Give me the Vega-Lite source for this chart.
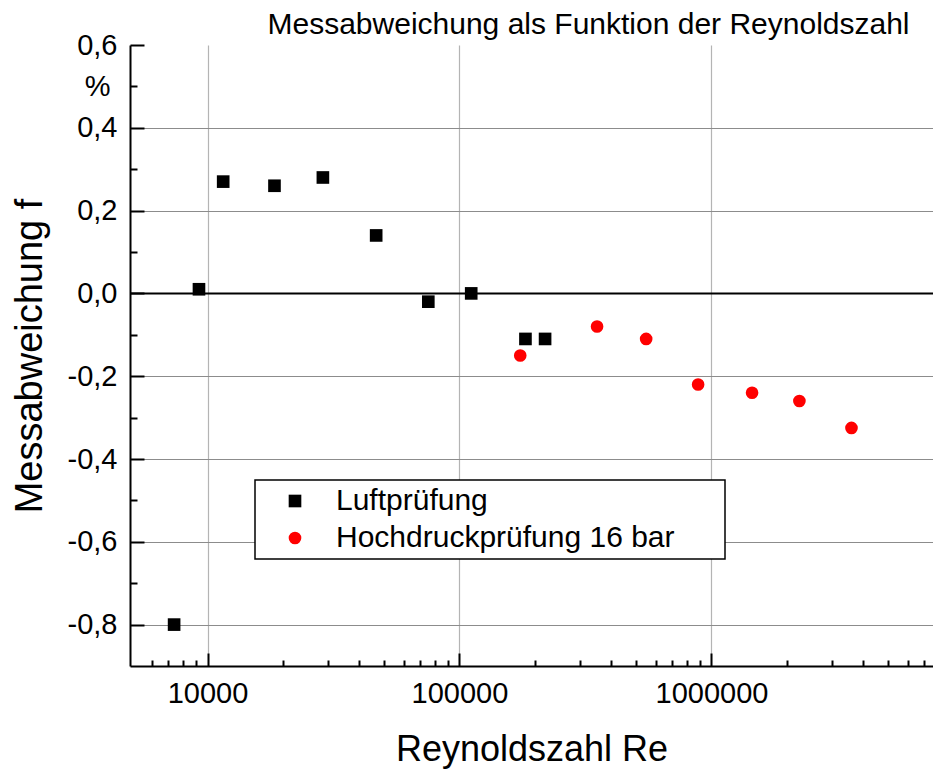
{
  "$schema": "https://vega.github.io/schema/vega-lite/v6.json",
  "width": 803,
  "height": 621,
  "autosize": {"type": "none"},
  "padding": {"left": 130, "top": 45, "right": 0, "bottom": 105},
  "background": "white",
  "config": {
    "view": {"stroke": null},
    "font": "Liberation Sans"
  },
  "title": {
    "text": "Messabweichung als Funktion der Reynoldszahl",
    "fontSize": 30,
    "fontWeight": "normal",
    "font": "Liberation Sans",
    "color": "black",
    "anchor": "middle",
    "frame": "group",
    "dx": 57,
    "baseline": "alphabetic",
    "offset": -33
  },
  "data": {
    "values": [
      {"Re": 7370, "f": -0.80, "series": "Luftprüfung"},
      {"Re": 9250, "f": 0.01, "series": "Luftprüfung"},
      {"Re": 11540, "f": 0.27, "series": "Luftprüfung"},
      {"Re": 18440, "f": 0.26, "series": "Luftprüfung"},
      {"Re": 28700, "f": 0.28, "series": "Luftprüfung"},
      {"Re": 46700, "f": 0.14, "series": "Luftprüfung"},
      {"Re": 75200, "f": -0.02, "series": "Luftprüfung"},
      {"Re": 111300, "f": 0.00, "series": "Luftprüfung"},
      {"Re": 182700, "f": -0.11, "series": "Luftprüfung"},
      {"Re": 218600, "f": -0.11, "series": "Luftprüfung"},
      {"Re": 174200, "f": -0.15, "series": "Hochdruckprüfung 16 bar"},
      {"Re": 351500, "f": -0.08, "series": "Hochdruckprüfung 16 bar"},
      {"Re": 550500, "f": -0.11, "series": "Hochdruckprüfung 16 bar"},
      {"Re": 885000, "f": -0.22, "series": "Hochdruckprüfung 16 bar"},
      {"Re": 1449000, "f": -0.24, "series": "Hochdruckprüfung 16 bar"},
      {"Re": 2233000, "f": -0.26, "series": "Hochdruckprüfung 16 bar"},
      {"Re": 3594000, "f": -0.325, "series": "Hochdruckprüfung 16 bar"}
    ]
  },
  "mark": {"type": "point", "filled": true, "opacity": 1, "size": 160, "strokeWidth": 0},
  "encoding": {
    "x": {
      "field": "Re",
      "type": "quantitative",
      "scale": {"type": "log", "domain": [4925, 7570000], "nice": false},
      "axis": {
        "title": "Reynoldszahl Re",
        "titleFontSize": 36,
        "titleFontWeight": "normal",
        "titleColor": "black",
        "titlePadding": 17,
        "values": [6000, 7000, 8000, 9000, 10000, 20000, 30000, 40000, 50000, 60000, 70000, 80000, 90000, 100000, 200000, 300000, 400000, 500000, 600000, 700000, 800000, 900000, 1000000, 2000000, 3000000, 4000000, 5000000, 6000000, 7000000],
        "labelExpr": "abs(log(datum.value)/LN10 - round(log(datum.value)/LN10)) < 1e-6 ? format(datum.value, 'd') : ''",
        "labelFontSize": 29,
        "labelColor": "black",
        "labelPadding": 26,
        "labelFlush": false,
        "labelOverlap": false,
        "domainColor": "black",
        "domainWidth": 2,
        "tickColor": "black",
        "tickWidth": 2,
        "tickSize": {"condition": {"test": "abs(log(datum.value)/LN10 - round(log(datum.value)/LN10)) < 1e-6", "value": -13}, "value": -6},
        "grid": true,
        "gridColor": "#b4b4b4",
        "gridWidth": 1.2,
        "gridOpacity": {"condition": {"test": "abs(log(datum.value)/LN10 - round(log(datum.value)/LN10)) < 1e-6", "value": 1}, "value": 0}
      }
    },
    "y": {
      "field": "f",
      "type": "quantitative",
      "scale": {"domain": [-0.9, 0.6], "nice": false, "zero": false},
      "axis": {
        "title": "Messabweichung f",
        "titleFontSize": 38,
        "titleFontWeight": "normal",
        "titleColor": "black",
        "titlePadding": 18,
        "values": [-0.8, -0.7, -0.6, -0.5, -0.4, -0.3, -0.2, -0.1, 0, 0.1, 0.2, 0.3, 0.4, 0.5, 0.6],
        "labelExpr": "abs(datum.value - 0.5) < 1e-6 ? '%' : (abs(datum.value*5 - round(datum.value*5)) < 1e-6 ? replace(replace(format(datum.value, '.1f'), '.', ','), '\u2212', '-') : '')",
        "labelFontSize": 29,
        "labelColor": "black",
        "labelPadding": 27,
        "labelFlush": false,
        "labelOverlap": false,
        "domainColor": "black",
        "domainWidth": 2,
        "tickColor": "black",
        "tickWidth": 2,
        "tickSize": {"condition": {"test": "abs(datum.value*5 - round(datum.value*5)) < 1e-6", "value": -14}, "value": -7},
        "grid": true,
        "gridColor": {"condition": {"test": "abs(datum.value) < 1e-6", "value": "black"}, "value": "#8c8c8c"},
        "gridWidth": {"condition": {"test": "abs(datum.value) < 1e-6", "value": 2.2}, "value": 1.2},
        "gridOpacity": {"condition": {"test": "abs(datum.value*5 - round(datum.value*5)) > 1e-6 || datum.value > 0.55", "value": 0}, "value": 1}
      }
    },
    "color": {
      "field": "series",
      "type": "nominal",
      "scale": {"domain": ["Luftprüfung", "Hochdruckprüfung 16 bar"], "range": ["#000000", "#ff0000"]},
      "legend": {
        "orient": "none",
        "legendX": 125,
        "legendY": 435,
        "title": null,
        "labelFontSize": 30,
        "labelColor": "black",
        "labelLimit": 700,
        "labelExpr": "datum.label + '\u2800\u2800'",
        "strokeColor": "black",
        "fillColor": "white",
        "padding": 6,
        "symbolOffset": 19,
        "labelOffset": 26,
        "rowPadding": 7,
        "symbolSize": 160,
        "symbolStrokeWidth": 0,
        "symbolOpacity": 1,
        "encode": {
          "legend": {"update": {"strokeWidth": {"value": 1.5}}}
        }
      }
    },
    "shape": {
      "field": "series",
      "type": "nominal",
      "scale": {"domain": ["Luftprüfung", "Hochdruckprüfung 16 bar"], "range": ["square", "circle"]}
    }
  }
}
